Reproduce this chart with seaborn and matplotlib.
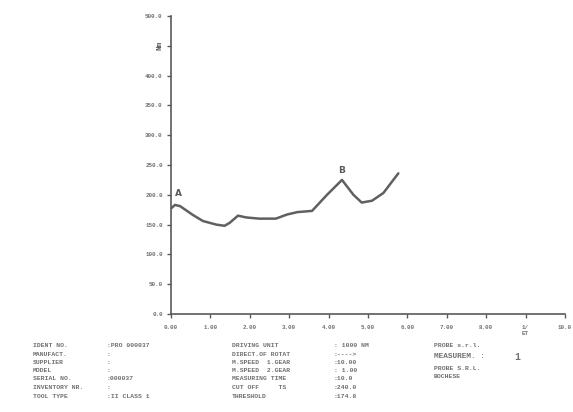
import matplotlib
matplotlib.use("Agg")
import matplotlib.pyplot as plt
import seaborn as sns
import pandas as pd

# Torque trace sampled along the measuring time
time_s = [0.00, 0.10, 0.23, 0.56, 0.81, 1.15, 1.36, 1.49, 1.70, 1.91, 2.24, 2.66,
          2.95, 3.21, 3.58, 3.96, 4.34, 4.63, 4.84, 5.10, 5.39, 5.77]
torque = [177, 183, 181, 166, 156, 150, 148, 153, 165, 162, 160, 160,
          167, 171, 173, 200, 225, 200, 187, 190, 203, 236]

# Marked points on the trace
marker_names = ["A", "B"]
marker_x = [0.18, 4.34]
marker_y = [203, 240]

x_ticks = [0, 1, 2, 3, 4, 5, 6, 7, 8, 9, 10]
x_tick_labels = ["0.00", "1.00", "2.00", "3.00", "4.00", "5.00", "6.00", "7.00",
                 "8.00", "1/\nET", "10.0"]
y_ticks = [0, 50, 100, 150, 200, 250, 300, 350, 400, 450, 500]
y_tick_labels = ["0.0", "50.0", "100.0", "150.0", "200.0", "250.0", "300.0",
                 "350.0", "400.0", "", "500.0"]
y_unit = "Nm"

# Report block beneath the chart
left_keys = ["IDENT NO.", "MANUFACT.", "SUPPLIER", "MODEL", "SERIAL NO.",
             "INVENTORY NR.", "TOOL TYPE"]
left_vals = [":PRO 000037", ":", ":", ":", ":000037", ":", ":II CLASS 1"]
mid_keys = ["DRIVING UNIT", "DIRECT.OF ROTAT", "M.SPEED  1.GEAR", "M.SPEED  2.GEAR",
            "MEASURING TIME", "CUT OFF     TS", "THRESHOLD"]
mid_vals = [": 1000 NM", ":---->", ":10.00", ": 1.00", ":10.0", ":240.0", ":174.8"]
right_lines = ["PROBE s.r.l.", "MEASUREM. :", "PROBE S.R.L.", "BOCHESE"]
measure_no = "1"

sns.set_style("ticks")
plt.rcParams["font.family"] = ["Liberation Mono", "DejaVu Sans Mono"]

W, H = 573, 412
fig = plt.figure(figsize=(W / 100, H / 100), dpi=100)
fig.patch.set_facecolor("white")

ax = fig.add_axes([171 / W, 1 - 314 / H, (565 - 171) / W, (314 - 16) / H])
ink = "#5a5a5a"
txt = "#707070"

df = pd.DataFrame({"t": time_s, "torque": torque})
sns.lineplot(data=df, x="t", y="torque", ax=ax, color="#606060", linewidth=1.8)

for name, mx, my in zip(marker_names, marker_x, marker_y):
    ax.text(mx, my, name, ha="center", va="center", fontsize=6.5, color=ink,
            family="DejaVu Sans", fontweight="bold")

ax.set_xlim(0, 10)
ax.set_ylim(0, 500)
ax.set_xticks(x_ticks)
ax.set_xticklabels(x_tick_labels)
ax.set_yticks(y_ticks)
ax.set_yticklabels(y_tick_labels)
ax.set_xlabel("")
ax.set_ylabel("")
ax.tick_params(axis="both", direction="out", length=3, width=1.0, colors=ink,
               labelsize=4.2, labelcolor=txt)
for lbl in ax.get_xticklabels() + ax.get_yticklabels():
    lbl.set_fontweight("bold")
ax.tick_params(axis="x", pad=5)
ax.tick_params(axis="y", pad=3)
for s in ["top", "right"]:
    ax.spines[s].set_visible(False)
for s in ["left", "bottom"]:
    ax.spines[s].set_color(ink)
    ax.spines[s].set_linewidth(1.2)
ax.set_facecolor("white")

# unit label in place of the 450 tick label
ax.text(-0.2, 450, y_unit, rotation=90, ha="right", va="center", fontsize=5.5,
        color=ink, fontweight="bold")

def fy(py):
    return 1 - py / H

rows = [345.5, 354, 362, 370.5, 379, 387.5, 396]
fs = 4.6
for r, k, v in zip(rows, left_keys, left_vals):
    fig.text(33 / W, fy(r), k, fontsize=fs, color=txt, va="center", fontweight="bold")
    fig.text(107 / W, fy(r), v, fontsize=fs, color=txt, va="center", fontweight="bold")
for r, k, v in zip(rows, mid_keys, mid_vals):
    fig.text(232 / W, fy(r), k, fontsize=fs, color=txt, va="center", fontweight="bold")
    fig.text(334 / W, fy(r), v, fontsize=fs, color=txt, va="center", fontweight="bold")

right_rows = [345.5, 356, 368, 376]
right_sizes = [fs, 5.6, fs, fs]
for r, line, sz in zip(right_rows, right_lines, right_sizes):
    fig.text(434 / W, fy(r), line, fontsize=sz, color=txt, va="center", fontweight="bold")
fig.text(514 / W, fy(357), measure_no, fontsize=7, color=txt, va="center",
         fontweight="bold")

fig.savefig("out.png", dpi=100, facecolor="white")
